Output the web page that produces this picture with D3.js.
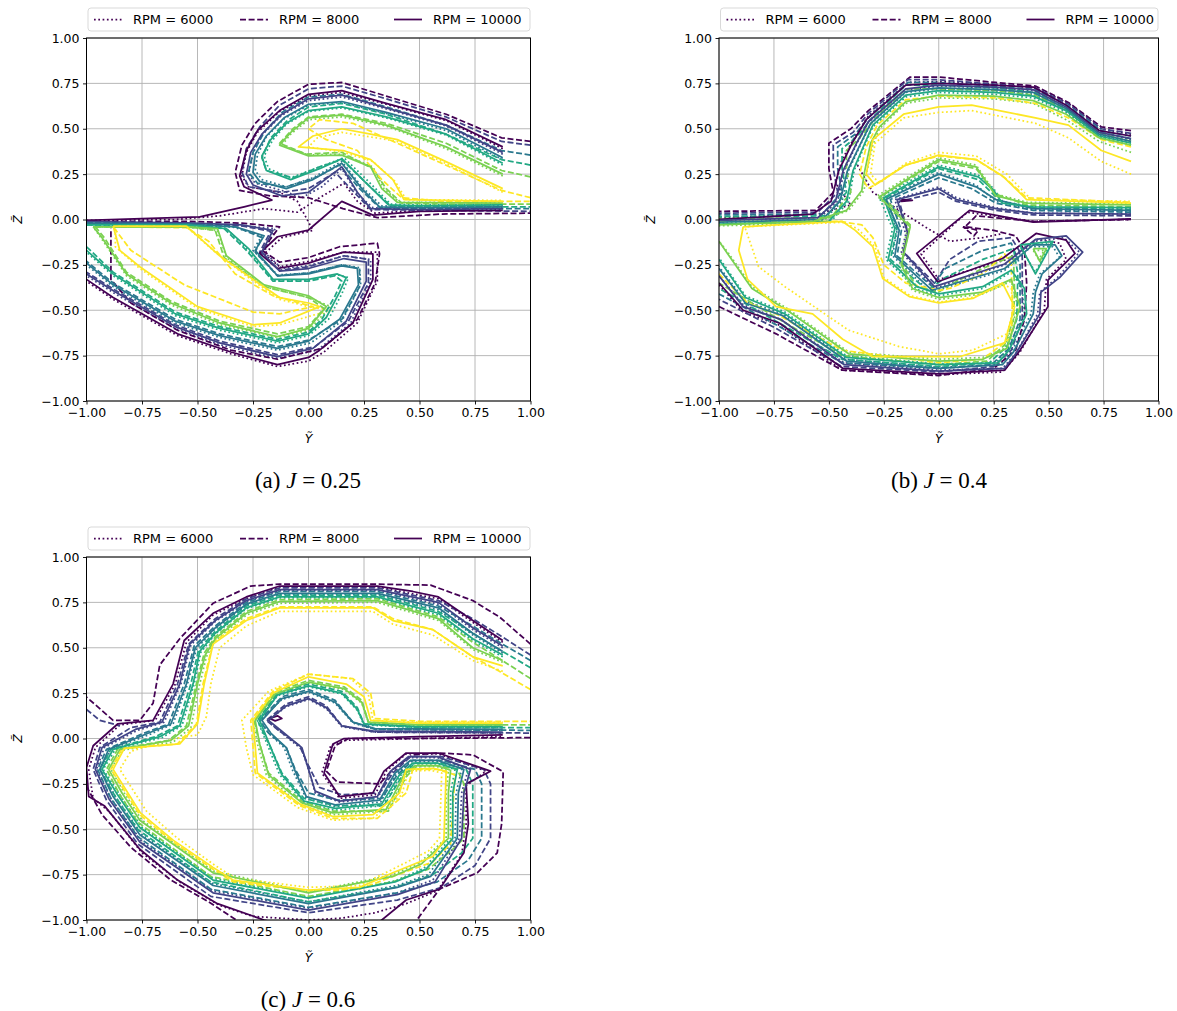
<!DOCTYPE html>
<html><head><meta charset="utf-8">
<script src="https://cdn.jsdelivr.net/npm/d3@7"></script>
<style>body{margin:0;background:#fff}</style>
</head><body>
<svg id="fig" width="1177" height="1011"></svg>
<script>
// ---------- shared categories / labels ----------
const tickValues = [-1, -0.75, -0.5, -0.25, 0, 0.25, 0.5, 0.75, 1];
const tickLabels = ["−1.00","−0.75","−0.50","−0.25","0.00","0.25","0.50","0.75","1.00"];
const levelColors = ["#440154","#414487","#2a788e","#22a884","#7ad151","#fde725"];
const rpmLabels = ["RPM = 6000","RPM = 8000","RPM = 10000"];
const captionLetters = ["(a)","(b)","(c)"];
const jValues = ["0.25","0.4","0.6"];

// ---------- panel (a) J=0.25 : contour lines [Y,Z] per level ----------
const aSolid = [
 [[[0.875,0.40],[0.62,0.55],[0.35,0.64],[0.15,0.71],[0,0.69],[-0.13,0.60],[-0.23,0.49],[-0.28,0.38],[-0.31,0.24],[-0.29,0.18],[-0.165,0.107],[-0.29,0.07],[-0.49,0.015],[-0.75,0.005],[-1,-0.005]],
  [[0.875,0.05],[0.5,0.045],[0.29,0.024],[0.15,0.10],[0,-0.058],[-0.14,-0.095],[-0.22,-0.187],[-0.14,-0.27],[0,-0.24],[0.157,-0.18],[0.29,-0.19],[0.29,-0.33],[0.2,-0.57],[0.05,-0.72],[0,-0.76],[-0.14,-0.80],[-0.35,-0.73],[-0.59,-0.63],[-0.88,-0.43],[-1,-0.33]]],
 [[[0.875,0.37],[0.62,0.52],[0.35,0.615],[0.15,0.685],[0,0.665],[-0.12,0.58],[-0.21,0.47],[-0.26,0.37],[-0.28,0.25],[-0.25,0.19],[-0.12,0.13],[0,0.15],[0.15,0.29],[0.22,0.15],[0.28,0.06],[0.5,0.055],[0.875,0.06]],
  [[-1,-0.012],[-0.55,-0.018],[-0.3,-0.03],[-0.16,-0.06],[-0.21,-0.18],[-0.13,-0.285],[0,-0.27],[0.16,-0.215],[0.26,-0.235],[0.26,-0.34],[0.17,-0.56],[0.02,-0.71],[-0.14,-0.755],[-0.4,-0.68],[-0.6,-0.59],[-0.87,-0.40],[-1,-0.30]]],
 [[[0.875,0.34],[0.62,0.50],[0.35,0.59],[0.15,0.65],[0,0.635],[-0.11,0.56],[-0.19,0.46],[-0.24,0.36],[-0.25,0.26],[-0.22,0.21],[-0.10,0.17],[0.02,0.22],[0.15,0.31],[0.24,0.17],[0.32,0.07],[0.5,0.065],[0.875,0.07]],
  [[-1,-0.02],[-0.55,-0.024],[-0.33,-0.04],[-0.20,-0.09],[-0.24,-0.17],[-0.14,-0.31],[0,-0.30],[0.15,-0.255],[0.22,-0.27],[0.225,-0.36],[0.14,-0.55],[0,-0.67],[-0.14,-0.71],[-0.4,-0.64],[-0.6,-0.56],[-0.88,-0.36],[-1,-0.24]]],
 [[[0.875,0.31],[0.62,0.47],[0.35,0.565],[0.15,0.62],[0,0.60],[-0.10,0.53],[-0.17,0.44],[-0.21,0.35],[-0.19,0.27],[-0.08,0.22],[0.05,0.28],[0.15,0.335],[0.26,0.20],[0.36,0.08],[0.5,0.075],[0.875,0.08]],
  [[-1,-0.03],[-0.55,-0.03],[-0.37,-0.05],[-0.27,-0.16],[-0.16,-0.33],[0,-0.33],[0.13,-0.30],[0.17,-0.32],[0.14,-0.40],[0.08,-0.54],[0,-0.63],[-0.14,-0.67],[-0.4,-0.60],[-0.6,-0.52],[-0.88,-0.30],[-1,-0.17]]],
 [[[0.875,0.25],[0.62,0.40],[0.35,0.52],[0.15,0.575],[0,0.56],[-0.08,0.48],[-0.13,0.41],[0,0.35],[0.15,0.355],[0.28,0.29],[0.33,0.17],[0.40,0.095],[0.875,0.09]],
  [[-0.97,-0.04],[-0.55,-0.04],[-0.41,-0.05],[-0.37,-0.20],[-0.2,-0.36],[0,-0.42],[0.08,-0.48],[0,-0.60],[-0.14,-0.645],[-0.4,-0.57],[-0.62,-0.46],[-0.82,-0.30],[-0.93,-0.10],[-0.97,-0.04]]],
 [[[0.875,0.17],[0.6,0.33],[0.40,0.44],[0.28,0.47],[0.15,0.50],[0.02,0.46],[-0.045,0.40],[0.157,0.38],[0.28,0.33],[0.38,0.22],[0.43,0.11],[0.875,0.10]],
  [[-0.88,-0.036],[-0.55,-0.036],[-0.40,-0.2],[-0.25,-0.33],[-0.13,-0.43],[0,-0.46],[0.05,-0.48],[-0.13,-0.57],[-0.25,-0.58],[-0.5,-0.48],[-0.76,-0.26],[-0.85,-0.17],[-0.88,-0.036]]]
];
const aDashed = [
 [[[1.0,0.43],[0.87,0.45],[0.62,0.58],[0.35,0.68],[0.15,0.755],[0,0.745],[-0.14,0.65],[-0.24,0.53],[-0.30,0.41],[-0.33,0.26],[-0.31,0.16],[-0.17,0.13],[0,0.12],[0.155,0.06],[0.31,0.01],[0.6,0.03],[1.0,0.035]],
  [[-1,-0.01],[-0.55,-0.01],[-0.3,-0.02],[-0.13,-0.04],[-0.21,-0.17],[-0.13,-0.235],[0,-0.21],[0.14,-0.15],[0.31,-0.13],[0.32,-0.19],[0.30,-0.35],[0.22,-0.55],[0.06,-0.71],[-0.14,-0.77],[-0.35,-0.72],[-0.59,-0.61],[-0.80,-0.46],[-0.89,-0.33],[-0.89,-0.05]]],
 [[[1.0,0.41],[0.87,0.43],[0.62,0.565],[0.35,0.665],[0.15,0.735],[0,0.72],[-0.13,0.63],[-0.22,0.51],[-0.28,0.39],[-0.30,0.26],[-0.27,0.18],[-0.12,0.15],[0,0.17],[0.12,0.26],[0.19,0.17],[0.28,0.055],[0.6,0.05],[1.0,0.045]],
  [[-1,-0.015],[-0.55,-0.02],[-0.3,-0.035],[-0.17,-0.065],[-0.22,-0.18],[-0.13,-0.28],[0,-0.26],[0.16,-0.20],[0.27,-0.22],[0.27,-0.35],[0.18,-0.56],[0.03,-0.70],[-0.14,-0.745],[-0.4,-0.67],[-0.6,-0.58],[-0.87,-0.39],[-1,-0.29]]],
 [[[1.0,0.355],[0.87,0.38],[0.62,0.52],[0.35,0.62],[0.15,0.69],[0,0.675],[-0.12,0.59],[-0.20,0.48],[-0.25,0.37],[-0.27,0.26],[-0.23,0.20],[-0.10,0.18],[0.03,0.23],[0.14,0.30],[0.23,0.17],[0.32,0.065],[0.6,0.06],[1.0,0.06]],
  [[-1,-0.02],[-0.55,-0.025],[-0.33,-0.04],[-0.21,-0.10],[-0.24,-0.18],[-0.14,-0.31],[0,-0.295],[0.15,-0.25],[0.23,-0.27],[0.23,-0.37],[0.15,-0.55],[0,-0.665],[-0.14,-0.70],[-0.4,-0.63],[-0.6,-0.55],[-0.88,-0.35],[-1,-0.23]]],
 [[[1.0,0.30],[0.87,0.33],[0.62,0.47],[0.35,0.58],[0.15,0.64],[0,0.62],[-0.10,0.54],[-0.17,0.45],[-0.21,0.34],[-0.19,0.27],[-0.07,0.23],[0.05,0.29],[0.15,0.33],[0.27,0.19],[0.37,0.075],[0.6,0.07],[1.0,0.07]],
  [[-1,-0.03],[-0.55,-0.03],[-0.38,-0.05],[-0.28,-0.17],[-0.16,-0.34],[0,-0.34],[0.12,-0.31],[0.15,-0.34],[0.12,-0.42],[0.06,-0.55],[0,-0.62],[-0.14,-0.66],[-0.4,-0.59],[-0.6,-0.51],[-0.88,-0.29],[-1,-0.15]]],
 [[[1.0,0.235],[0.87,0.27],[0.62,0.42],[0.35,0.53],[0.15,0.58],[0,0.565],[-0.07,0.50],[-0.13,0.42],[-0.01,0.36],[0.15,0.37],[0.29,0.28],[0.35,0.17],[0.42,0.09],[0.6,0.085],[1.0,0.085]],
  [[-0.96,-0.04],[-0.55,-0.04],[-0.42,-0.06],[-0.38,-0.21],[-0.2,-0.37],[0,-0.43],[0.07,-0.49],[0,-0.59],[-0.14,-0.63],[-0.4,-0.56],[-0.62,-0.45],[-0.82,-0.29],[-0.92,-0.10],[-0.96,-0.04]]],
 [[[1.0,0.12],[0.87,0.16],[0.6,0.31],[0.40,0.42],[0.2,0.53],[0.05,0.55],[0.0,0.50],[0.08,0.44],[0.22,0.38],[0.33,0.22],[0.42,0.12],[0.6,0.10],[1.0,0.10]],
  [[-0.88,-0.04],[-0.55,-0.045],[-0.45,-0.12],[-0.33,-0.30],[-0.16,-0.42],[0.02,-0.48],[-0.13,-0.52],[-0.25,-0.51],[-0.56,-0.36],[-0.80,-0.17],[-0.88,-0.04]]]
];
const aDotted = [
 [[[0.875,0.39],[0.62,0.545],[0.35,0.635],[0.15,0.70],[0,0.68],[-0.13,0.595],[-0.23,0.48],[-0.28,0.37],[-0.30,0.24],[-0.27,0.18],[-0.13,0.15],[-0.05,0.10],[0.02,-0.06],[-0.12,-0.10],[-0.20,-0.19],[-0.13,-0.26],[0,-0.23],[0.16,-0.18],[0.31,-0.18],[0.31,-0.34],[0.22,-0.57],[0.07,-0.73],[0,-0.78],[-0.14,-0.81],[-0.35,-0.74],[-0.59,-0.64],[-0.88,-0.44],[-1,-0.34]],
  [[-1,-0.005],[-0.6,0.0],[-0.4,0.02],[-0.2,0.06],[-0.05,0.04],[0.05,0.12],[0.16,0.20],[0.22,0.10],[0.30,0.035],[0.5,0.05],[0.875,0.055]]],
 [[[0.875,0.36],[0.62,0.515],[0.35,0.61],[0.15,0.675],[0,0.655],[-0.12,0.575],[-0.21,0.465],[-0.25,0.365],[-0.27,0.25],[-0.24,0.20],[-0.12,0.16],[-0.03,0.12],[0.06,0.18],[0.15,0.28],[0.22,0.14],[0.29,0.065],[0.5,0.06],[0.875,0.065]],
  [[-1,-0.015],[-0.55,-0.02],[-0.3,-0.035],[-0.15,-0.05],[-0.20,-0.18],[-0.12,-0.27],[0,-0.255],[0.16,-0.20],[0.28,-0.22],[0.28,-0.34],[0.19,-0.57],[0.04,-0.72],[-0.14,-0.765],[-0.4,-0.69],[-0.6,-0.60],[-0.87,-0.41],[-1,-0.31]]],
 [[[0.875,0.33],[0.62,0.49],[0.35,0.585],[0.15,0.645],[0,0.63],[-0.11,0.555],[-0.19,0.455],[-0.23,0.355],[-0.24,0.27],[-0.21,0.22],[-0.10,0.18],[0.02,0.23],[0.15,0.32],[0.24,0.18],[0.33,0.075],[0.5,0.07],[0.875,0.075]],
  [[-1,-0.022],[-0.55,-0.026],[-0.34,-0.042],[-0.21,-0.09],[-0.25,-0.17],[-0.14,-0.305],[0,-0.295],[0.15,-0.25],[0.23,-0.265],[0.235,-0.36],[0.15,-0.56],[0.01,-0.68],[-0.14,-0.72],[-0.4,-0.65],[-0.6,-0.57],[-0.88,-0.37],[-1,-0.25]]],
 [[[0.875,0.30],[0.62,0.465],[0.35,0.56],[0.15,0.615],[0,0.595],[-0.10,0.525],[-0.16,0.44],[-0.20,0.35],[-0.18,0.28],[-0.08,0.23],[0.05,0.29],[0.16,0.34],[0.27,0.21],[0.37,0.085],[0.5,0.08],[0.875,0.085]],
  [[-1,-0.03],[-0.55,-0.032],[-0.37,-0.05],[-0.28,-0.16],[-0.16,-0.335],[0,-0.335],[0.13,-0.305],[0.18,-0.32],[0.15,-0.41],[0.09,-0.55],[0,-0.64],[-0.14,-0.68],[-0.4,-0.61],[-0.6,-0.53],[-0.88,-0.31],[-1,-0.18]]],
 [[[0.875,0.24],[0.62,0.39],[0.35,0.515],[0.15,0.565],[0,0.55],[-0.08,0.47],[-0.12,0.41],[0,0.355],[0.15,0.36],[0.29,0.29],[0.34,0.17],[0.41,0.095],[0.875,0.095]],
  [[-0.97,-0.04],[-0.55,-0.042],[-0.41,-0.06],[-0.37,-0.21],[-0.2,-0.37],[0,-0.43],[0.1,-0.48],[0,-0.61],[-0.14,-0.65],[-0.4,-0.58],[-0.62,-0.47],[-0.82,-0.31],[-0.93,-0.11],[-0.97,-0.04]]],
 [[[0.875,0.15],[0.6,0.32],[0.40,0.43],[0.28,0.455],[0.15,0.48],[0.04,0.45],[0.0,0.40],[0.16,0.37],[0.29,0.32],[0.39,0.21],[0.44,0.11],[0.875,0.105]],
  [[-0.87,-0.04],[-0.55,-0.04],[-0.42,-0.18],[-0.27,-0.32],[-0.13,-0.44],[0,-0.48],[0.1,-0.50],[-0.13,-0.58],[-0.25,-0.59],[-0.5,-0.49],[-0.76,-0.27],[-0.87,-0.15],[-0.87,-0.04]]]
];

// ---------- panel (b) J=0.4 ----------
const bSolid = [
 [[[0.875,0.46],[0.73,0.49],[0.58,0.63],[0.43,0.73],[0.25,0.74],[0,0.75],[-0.15,0.74],[-0.33,0.55],[-0.39,0.43],[-0.455,0.27],[-0.49,0.10],[-0.574,0.03],[-1,0.0]],
  [[-1,-0.35],[-0.89,-0.50],[-0.726,-0.57],[-0.437,-0.82],[0,-0.85],[0.30,-0.83],[0.37,-0.72],[0.497,-0.48],[0.497,-0.334],[0.62,-0.187],[0.58,-0.114],[0.443,-0.077],[0.29,-0.215],[-0.005,-0.343],[-0.10,-0.187],[0.14,0.05],[0.43,-0.015],[0.875,0.004]],
  [[-0.17,0.11],[-0.12,0.106],[-0.17,0.10],[-0.17,0.11]]],
 [[[0.875,0.445],[0.73,0.48],[0.58,0.62],[0.43,0.715],[0.25,0.73],[0,0.74],[-0.15,0.72],[-0.32,0.54],[-0.37,0.43],[-0.435,0.27],[-0.47,0.10],[-0.55,0.01],[-1,-0.005]],
  [[0.875,0.03],[0.43,0.035],[0.26,0.06],[0.08,0.11],[0,0.17],[-0.19,0.11],[-0.14,-0.08],[-0.16,-0.18],[-0.02,-0.37],[0.30,-0.245],[0.44,-0.11],[0.58,-0.09],[0.655,-0.18],[0.55,-0.32],[0.465,-0.40],[0.46,-0.52],[0.35,-0.74],[0.30,-0.82],[0,-0.835],[-0.43,-0.80],[-0.72,-0.55],[-0.89,-0.48],[-1,-0.31]]],
 [[[0.875,0.43],[0.73,0.47],[0.58,0.61],[0.43,0.70],[0.25,0.715],[0,0.725],[-0.15,0.705],[-0.31,0.53],[-0.355,0.42],[-0.415,0.27],[-0.45,0.10],[-0.53,0.0],[-1,-0.015]],
  [[0.875,0.05],[0.43,0.06],[0.26,0.11],[0.17,0.18],[0,0.25],[-0.24,0.11],[-0.18,-0.06],[-0.20,-0.20],[-0.03,-0.39],[0.30,-0.27],[0.43,-0.14],[0.53,-0.14],[0.56,-0.20],[0.47,-0.30],[0.44,-0.40],[0.43,-0.52],[0.34,-0.73],[0.29,-0.80],[0,-0.82],[-0.42,-0.78],[-0.71,-0.53],[-0.88,-0.46],[-1,-0.27]]],
 [[[0.875,0.42],[0.73,0.46],[0.58,0.60],[0.43,0.68],[0.25,0.70],[0,0.71],[-0.15,0.685],[-0.30,0.52],[-0.34,0.41],[-0.39,0.27],[-0.42,0.10],[-0.50,-0.01],[-1,-0.025]],
  [[0.875,0.065],[0.43,0.07],[0.29,0.09],[0.25,0.16],[0.18,0.235],[0,0.29],[-0.25,0.12],[-0.20,-0.05],[-0.23,-0.22],[-0.10,-0.37],[0,-0.41],[0.2,-0.37],[0.33,-0.28],[0.39,-0.38],[0.40,-0.52],[0.32,-0.72],[0.27,-0.79],[0,-0.80],[-0.42,-0.76],[-0.70,-0.52],[-0.88,-0.43],[-1,-0.22]],
  [[0.37,-0.14],[0.52,-0.12],[0.44,-0.30],[0.37,-0.14]]],
 [[[0.875,0.41],[0.73,0.45],[0.58,0.58],[0.43,0.655],[0.25,0.68],[0,0.685],[-0.15,0.65],[-0.27,0.51],[-0.31,0.42],[-0.34,0.25],[-0.35,0.16],[-0.42,0.05],[-0.57,-0.01],[-1,-0.03]],
  [[0.875,0.08],[0.40,0.09],[0.26,0.13],[0.17,0.29],[0,0.33],[-0.27,0.125],[-0.13,-0.04],[-0.17,-0.25],[-0.12,-0.38],[0,-0.43],[0.2,-0.40],[0.33,-0.33],[0.37,-0.48],[0.31,-0.71],[0.2,-0.77],[0,-0.78],[-0.41,-0.74],[-0.69,-0.50],[-0.85,-0.38],[-0.96,-0.19],[-1,-0.12]],
  [[0.43,-0.16],[0.49,-0.16],[0.46,-0.23],[0.43,-0.16]]],
 [[[0.875,0.32],[0.74,0.38],[0.59,0.52],[0.44,0.56],[0.15,0.63],[0,0.62],[-0.16,0.58],[-0.30,0.44],[-0.33,0.25],[-0.29,0.19],[-0.15,0.30],[0,0.355],[0.17,0.33],[0.29,0.24],[0.40,0.11],[0.875,0.09]],
  [[-0.89,-0.04],[-0.44,-0.01],[-0.38,-0.06],[-0.30,-0.15],[-0.255,-0.325],[-0.134,-0.425],[0,-0.46],[0.155,-0.435],[0.29,-0.35],[0.345,-0.48],[0.30,-0.68],[0.094,-0.756],[-0.30,-0.756],[-0.437,-0.66],[-0.574,-0.52],[-0.74,-0.48],[-0.87,-0.33],[-0.91,-0.17],[-0.89,-0.04]]]
];
const bDashed = [
 [[[0.875,0.49],[0.74,0.51],[0.59,0.645],[0.44,0.735],[0.26,0.755],[0,0.785],[-0.13,0.785],[-0.32,0.60],[-0.40,0.50],[-0.50,0.42],[-0.50,0.28],[-0.48,0.15],[-0.56,0.05],[-1,0.045]],
  [[-1,-0.48],[-0.74,-0.63],[-0.44,-0.83],[0,-0.86],[0.25,-0.82],[0.35,-0.72],[0.39,-0.55],[0.40,-0.35],[0.39,-0.17],[0.35,-0.09],[0.25,-0.06],[0.12,-0.04],[0.17,0.02],[0.43,-0.01],[0.875,0.0]],
  [[0.11,-0.04],[0.18,-0.06],[0.16,-0.09],[0.11,-0.04]]],
 [[[0.875,0.475],[0.74,0.50],[0.59,0.635],[0.44,0.725],[0.26,0.745],[0,0.77],[-0.14,0.77],[-0.32,0.585],[-0.39,0.48],[-0.48,0.41],[-0.48,0.28],[-0.46,0.15],[-0.55,0.04],[-1,0.035]],
  [[0.875,0.02],[0.43,0.025],[0.26,0.05],[0.08,0.10],[0,0.15],[-0.18,0.10],[-0.14,-0.07],[-0.16,-0.18],[-0.02,-0.35],[0.05,-0.22],[0.18,-0.12],[0.33,-0.10],[0.38,-0.20],[0.38,-0.55],[0.33,-0.72],[0.25,-0.81],[0,-0.84],[-0.44,-0.81],[-0.74,-0.60],[-1,-0.44]]],
 [[[0.875,0.46],[0.74,0.49],[0.59,0.625],[0.44,0.715],[0.26,0.735],[0,0.755],[-0.14,0.755],[-0.31,0.575],[-0.38,0.47],[-0.46,0.40],[-0.46,0.28],[-0.44,0.15],[-0.53,0.03],[-1,0.025]],
  [[0.875,0.04],[0.43,0.05],[0.26,0.09],[0.15,0.17],[0,0.23],[-0.22,0.11],[-0.17,-0.06],[-0.19,-0.20],[-0.03,-0.37],[0.03,-0.27],[0.2,-0.17],[0.33,-0.13],[0.37,-0.25],[0.37,-0.55],[0.32,-0.71],[0.24,-0.80],[0,-0.82],[-0.44,-0.79],[-0.74,-0.58],[-1,-0.41]]],
 [[[0.875,0.445],[0.74,0.48],[0.59,0.615],[0.44,0.70],[0.26,0.725],[0,0.74],[-0.15,0.74],[-0.30,0.565],[-0.37,0.46],[-0.44,0.39],[-0.44,0.28],[-0.42,0.15],[-0.51,0.02],[-1,0.015]],
  [[0.875,0.055],[0.43,0.065],[0.28,0.10],[0.18,0.22],[0,0.28],[-0.24,0.12],[-0.19,-0.05],[-0.22,-0.22],[-0.05,-0.39],[0.03,-0.32],[0.2,-0.22],[0.34,-0.16],[0.36,-0.30],[0.355,-0.55],[0.31,-0.70],[0.23,-0.79],[0,-0.81],[-0.44,-0.77],[-0.74,-0.56],[-1,-0.38]]],
 [[[0.875,0.43],[0.74,0.47],[0.59,0.60],[0.44,0.685],[0.26,0.71],[0,0.72],[-0.15,0.72],[-0.29,0.555],[-0.36,0.45],[-0.42,0.38],[-0.42,0.28],[-0.40,0.15],[-0.49,0.01],[-1,0.005]],
  [[0.875,0.07],[0.40,0.08],[0.26,0.14],[0.17,0.28],[0,0.32],[-0.26,0.13],[-0.13,-0.03],[-0.17,-0.24],[-0.10,-0.37],[0,-0.40],[0.05,-0.36],[0.2,-0.27],[0.34,-0.20],[0.345,-0.40],[0.34,-0.55],[0.30,-0.69],[0.22,-0.78],[0,-0.80],[-0.44,-0.75],[-0.74,-0.54],[-1,-0.35]]],
 [[[0.875,0.40],[0.74,0.44],[0.59,0.56],[0.44,0.64],[0.26,0.67],[0,0.68],[-0.15,0.66],[-0.28,0.52],[-0.33,0.40],[-0.36,0.25],[-0.32,0.17],[-0.15,0.30],[0,0.35],[0.17,0.33],[0.30,0.23],[0.40,0.12],[0.875,0.095]],
  [[-1,-0.30],[-0.87,-0.46],[-0.74,-0.52],[-0.44,-0.72],[0,-0.79],[0.2,-0.77],[0.33,-0.65],[0.335,-0.45],[0.33,-0.25],[0.30,-0.19],[0.2,-0.30],[0.05,-0.38],[0,-0.39],[-0.15,-0.35],[-0.25,-0.25],[-0.30,-0.10],[-0.35,-0.03],[-0.45,-0.01],[-1,-0.01]]]
];
const bDotted = [
 [[[0.875,0.47],[0.74,0.50],[0.59,0.64],[0.44,0.725],[0.26,0.745],[0,0.76],[-0.14,0.755],[-0.32,0.57],[-0.38,0.46],[-0.44,0.33],[-0.47,0.20],[-0.40,0.08],[-0.55,0.03],[-1,0.01]],
  [[-1,-0.36],[-0.89,-0.51],[-0.73,-0.58],[-0.44,-0.83],[0,-0.855],[0.29,-0.84],[0.37,-0.73],[0.48,-0.50],[0.49,-0.33],[0.58,-0.22],[0.55,-0.13],[0.45,-0.11],[0.31,-0.22],[0,-0.33],[-0.08,-0.19],[0.13,0.04],[0.43,-0.01],[0.875,0.0]],
  [[-0.37,0.30],[-0.30,0.15],[-0.18,0.05],[-0.05,-0.05],[0.05,-0.12],[0.2,-0.10],[0.28,-0.08]]],
 [[[0.875,0.44],[0.73,0.475],[0.58,0.615],[0.43,0.71],[0.25,0.725],[0,0.735],[-0.15,0.715],[-0.32,0.535],[-0.37,0.425],[-0.43,0.27],[-0.46,0.10],[-0.54,0.01],[-1,-0.005]],
  [[0.875,0.03],[0.43,0.035],[0.26,0.065],[0.08,0.12],[0,0.18],[-0.20,0.11],[-0.15,-0.08],[-0.17,-0.18],[-0.02,-0.38],[0.30,-0.25],[0.44,-0.12],[0.57,-0.10],[0.64,-0.18],[0.54,-0.32],[0.46,-0.40],[0.45,-0.52],[0.35,-0.74],[0.29,-0.82],[0,-0.83],[-0.43,-0.79],[-0.72,-0.55],[-0.89,-0.47],[-1,-0.31]]],
 [[[0.875,0.425],[0.73,0.465],[0.58,0.60],[0.43,0.69],[0.25,0.71],[0,0.72],[-0.15,0.70],[-0.31,0.525],[-0.355,0.415],[-0.41,0.27],[-0.44,0.10],[-0.52,0.0],[-1,-0.015]],
  [[0.875,0.045],[0.43,0.055],[0.26,0.10],[0.17,0.19],[0,0.26],[-0.25,0.11],[-0.19,-0.06],[-0.21,-0.20],[-0.04,-0.40],[0.30,-0.28],[0.42,-0.15],[0.52,-0.15],[0.55,-0.21],[0.46,-0.30],[0.43,-0.40],[0.42,-0.52],[0.33,-0.73],[0.28,-0.80],[0,-0.815],[-0.42,-0.77],[-0.71,-0.52],[-0.88,-0.45],[-1,-0.26]]],
 [[[0.875,0.41],[0.73,0.455],[0.58,0.59],[0.43,0.67],[0.25,0.69],[0,0.70],[-0.15,0.675],[-0.30,0.51],[-0.34,0.40],[-0.385,0.27],[-0.41,0.10],[-0.49,-0.01],[-1,-0.025]],
  [[0.875,0.06],[0.43,0.07],[0.29,0.10],[0.25,0.17],[0.18,0.245],[0,0.30],[-0.27,0.12],[-0.21,-0.05],[-0.24,-0.22],[-0.10,-0.385],[0,-0.42],[0.2,-0.38],[0.33,-0.29],[0.38,-0.38],[0.39,-0.52],[0.31,-0.72],[0.26,-0.79],[0,-0.795],[-0.42,-0.75],[-0.70,-0.51],[-0.88,-0.42],[-1,-0.21]],
  [[0.37,-0.15],[0.51,-0.13],[0.44,-0.29],[0.37,-0.15]]],
 [[[0.875,0.37],[0.73,0.43],[0.58,0.55],[0.43,0.64],[0.25,0.665],[0,0.67],[-0.15,0.64],[-0.27,0.50],[-0.30,0.41],[-0.33,0.25],[-0.34,0.16],[-0.41,0.05],[-0.57,-0.02],[-1,-0.035]],
  [[0.875,0.085],[0.40,0.095],[0.26,0.14],[0.17,0.30],[0,0.34],[-0.28,0.13],[-0.14,-0.04],[-0.18,-0.26],[-0.12,-0.39],[0,-0.44],[0.2,-0.41],[0.33,-0.34],[0.36,-0.48],[0.30,-0.71],[0.2,-0.76],[0,-0.77],[-0.41,-0.73],[-0.69,-0.49],[-0.85,-0.37],[-0.96,-0.18],[-1,-0.12]],
  [[0.43,-0.17],[0.48,-0.17],[0.455,-0.22],[0.43,-0.17]]],
 [[[0.875,0.25],[0.74,0.32],[0.59,0.45],[0.44,0.53],[0.15,0.60],[0,0.59],[-0.16,0.56],[-0.29,0.42],[-0.31,0.25],[-0.27,0.20],[-0.15,0.31],[0,0.37],[0.17,0.35],[0.31,0.25],[0.42,0.11],[0.875,0.10]],
  [[-0.88,-0.05],[-0.82,-0.26],[-0.70,-0.37],[-0.41,-0.61],[-0.18,-0.70],[0,-0.74],[0.155,-0.72],[0.31,-0.63],[0.34,-0.50],[0.33,-0.38],[0.30,-0.36],[0.15,-0.43],[0,-0.455],[-0.13,-0.42],[-0.25,-0.32],[-0.29,-0.15],[-0.37,-0.05],[-0.44,-0.015],[-0.88,-0.04]]]
];

// ---------- panel (c) J=0.6 ----------
const cSolid = [
 [[[0.875,0.54],[0.74,0.65],[0.585,0.78],[0.47,0.81],[0.31,0.84],[-0.13,0.84],[-0.28,0.78],[-0.43,0.69],[-0.56,0.54],[-0.61,0.30],[-0.70,0.10],[-0.86,0.08],[-0.97,-0.04],[-1.0,-0.16],[-0.99,-0.32],[-0.92,-0.37],[-0.76,-0.61],[-0.59,-0.78],[-0.41,-0.91],[-0.2,-1.0],[-0.1,-1.03]],
  [[0.3,-1.03],[0.44,-0.89],[0.59,-0.83],[0.70,-0.63],[0.72,-0.47],[0.71,-0.25],[0.82,-0.18],[0.585,-0.08],[0.44,-0.08],[0.34,-0.18],[0.29,-0.30],[0.14,-0.32],[0.07,-0.19],[0.11,-0.03],[0.16,0.0],[0.5,0.01],[0.875,0.02]],
  [[-0.175,0.11],[-0.14,0.125],[-0.12,0.11],[-0.15,0.097],[-0.175,0.11]]],
 [[[0.875,0.51],[0.74,0.61],[0.585,0.75],[0.31,0.82],[-0.13,0.82],[-0.28,0.76],[-0.42,0.65],[-0.535,0.52],[-0.58,0.30],[-0.66,0.09],[-0.78,0.05],[-0.93,-0.05],[-0.96,-0.17],[-0.90,-0.33],[-0.76,-0.57],[-0.43,-0.85],[0,-0.945],[0.40,-0.86],[0.57,-0.79],[0.69,-0.55],[0.70,-0.30],[0.73,-0.17],[0.58,-0.10],[0.45,-0.10],[0.37,-0.18],[0.31,-0.32],[0.14,-0.345],[0.03,-0.29],[0,-0.17],[-0.03,-0.05],[-0.12,0.04],[-0.18,0.10],[-0.10,0.18],[0,0.22],[0.08,0.17],[0.15,0.07],[0.3,0.04],[0.875,0.035]]],
 [[[0.875,0.48],[0.74,0.58],[0.585,0.72],[0.31,0.80],[-0.13,0.80],[-0.28,0.74],[-0.42,0.61],[-0.51,0.50],[-0.55,0.30],[-0.62,0.08],[-0.72,0.03],[-0.90,-0.06],[-0.94,-0.17],[-0.88,-0.32],[-0.76,-0.53],[-0.43,-0.81],[0,-0.91],[0.40,-0.82],[0.55,-0.76],[0.67,-0.55],[0.675,-0.30],[0.70,-0.17],[0.58,-0.12],[0.46,-0.12],[0.39,-0.19],[0.32,-0.34],[0.12,-0.365],[-0.01,-0.32],[-0.06,-0.18],[-0.10,-0.05],[-0.17,0.03],[-0.21,0.10],[-0.12,0.22],[0,0.26],[0.12,0.20],[0.2,0.09],[0.3,0.055],[0.875,0.05]]],
 [[[0.875,0.46],[0.74,0.55],[0.585,0.69],[0.31,0.78],[-0.13,0.78],[-0.28,0.72],[-0.42,0.58],[-0.49,0.48],[-0.52,0.30],[-0.58,0.07],[-0.67,0.01],[-0.88,-0.06],[-0.93,-0.17],[-0.86,-0.31],[-0.76,-0.49],[-0.43,-0.78],[0,-0.88],[0.39,-0.79],[0.53,-0.72],[0.65,-0.55],[0.65,-0.30],[0.67,-0.17],[0.58,-0.135],[0.47,-0.135],[0.41,-0.20],[0.33,-0.36],[0.12,-0.385],[-0.02,-0.345],[-0.12,-0.20],[-0.17,-0.05],[-0.22,0.10],[-0.14,0.24],[0,0.29],[0.15,0.25],[0.22,0.16],[0.25,0.08],[0.5,0.065],[0.875,0.065]]],
 [[[0.875,0.43],[0.74,0.50],[0.585,0.66],[0.31,0.76],[-0.13,0.755],[-0.28,0.69],[-0.42,0.55],[-0.465,0.46],[-0.50,0.30],[-0.54,0.07],[-0.62,-0.01],[-0.85,-0.06],[-0.90,-0.17],[-0.84,-0.30],[-0.76,-0.45],[-0.43,-0.74],[0,-0.85],[0.38,-0.76],[0.51,-0.69],[0.63,-0.55],[0.63,-0.30],[0.64,-0.175],[0.58,-0.15],[0.48,-0.15],[0.43,-0.20],[0.35,-0.39],[0.11,-0.41],[-0.03,-0.355],[-0.18,-0.20],[-0.22,-0.03],[-0.24,0.10],[-0.15,0.245],[0,0.31],[0.16,0.275],[0.24,0.2],[0.27,0.09],[0.5,0.075],[0.875,0.075]]],
 [[[0.875,0.40],[0.74,0.45],[0.56,0.60],[0.38,0.65],[0.29,0.72],[-0.13,0.72],[-0.28,0.65],[-0.43,0.52],[-0.47,0.30],[-0.50,0.08],[-0.58,-0.03],[-0.83,-0.055],[-0.88,-0.17],[-0.757,-0.41],[-0.61,-0.56],[-0.43,-0.71],[-0.34,-0.78],[0,-0.835],[0.23,-0.82],[0.38,-0.74],[0.56,-0.65],[0.61,-0.56],[0.62,-0.18],[0.56,-0.165],[0.44,-0.17],[0.41,-0.30],[0.29,-0.42],[0.11,-0.43],[-0.04,-0.36],[-0.23,-0.19],[-0.25,0.10],[-0.16,0.25],[0,0.34],[0.17,0.30],[0.25,0.23],[0.28,0.10],[0.5,0.085],[0.875,0.085]]]
];
const cDashed = [
 [[[1.0,0.52],[0.86,0.67],[0.74,0.76],[0.55,0.845],[0.31,0.85],[-0.13,0.85],[-0.26,0.84],[-0.43,0.745],[-0.58,0.55],[-0.67,0.405],[-0.70,0.195],[-0.76,0.10],[-0.88,0.10],[-1.02,0.25]],
  [[-1.02,-0.22],[-0.93,-0.42],[-0.80,-0.60],[-0.62,-0.78],[-0.45,-0.90],[-0.30,-1.02]],
  [[0.47,-1.03],[0.59,-0.83],[0.76,-0.74],[0.85,-0.63],[0.87,-0.47],[0.877,-0.183],[0.74,-0.09],[0.59,-0.08],[0.47,-0.09],[0.38,-0.17],[0.32,-0.25],[0.13,-0.24],[0.08,-0.18],[0.12,-0.04],[0.18,0.0],[0.5,0.0],[1.0,0.005]]],
 [[[1.0,0.46],[0.86,0.57],[0.74,0.66],[0.585,0.76],[0.31,0.83],[-0.13,0.83],[-0.28,0.77],[-0.42,0.66],[-0.54,0.52],[-0.59,0.30],[-0.67,0.09],[-0.80,0.06],[-0.94,-0.05],[-0.97,-0.17],[-0.91,-0.34],[-0.77,-0.58],[-0.44,-0.87],[0,-0.96],[0.40,-0.89],[0.60,-0.82],[0.75,-0.70],[0.82,-0.55],[0.82,-0.25],[0.79,-0.17],[0.60,-0.10],[0.46,-0.10],[0.38,-0.19],[0.32,-0.30],[0.15,-0.31],[0.05,-0.27],[0,-0.15],[-0.04,-0.04],[-0.13,0.04],[-0.19,0.10],[-0.10,0.19],[0,0.23],[0.08,0.18],[0.15,0.07],[0.3,0.035],[1.0,0.03]],
  [[-1.0,0.16],[-0.94,0.10],[-0.85,0.07]]],
 [[[1.0,0.43],[0.86,0.53],[0.74,0.62],[0.585,0.73],[0.31,0.81],[-0.13,0.81],[-0.28,0.75],[-0.42,0.62],[-0.515,0.51],[-0.56,0.30],[-0.63,0.08],[-0.74,0.03],[-0.91,-0.06],[-0.95,-0.17],[-0.89,-0.33],[-0.77,-0.54],[-0.44,-0.83],[0,-0.93],[0.40,-0.85],[0.58,-0.79],[0.72,-0.67],[0.78,-0.55],[0.78,-0.25],[0.75,-0.17],[0.60,-0.12],[0.47,-0.12],[0.40,-0.20],[0.33,-0.33],[0.13,-0.34],[0,-0.30],[-0.06,-0.17],[-0.10,-0.05],[-0.18,0.03],[-0.22,0.10],[-0.12,0.23],[0,0.27],[0.12,0.21],[0.2,0.09],[0.3,0.05],[1.0,0.045]]],
 [[[1.0,0.39],[0.86,0.49],[0.74,0.58],[0.585,0.70],[0.31,0.79],[-0.13,0.79],[-0.28,0.73],[-0.42,0.59],[-0.495,0.49],[-0.53,0.30],[-0.59,0.07],[-0.69,0.01],[-0.89,-0.06],[-0.94,-0.17],[-0.87,-0.32],[-0.77,-0.50],[-0.44,-0.79],[0,-0.90],[0.39,-0.82],[0.56,-0.75],[0.69,-0.63],[0.74,-0.55],[0.74,-0.25],[0.71,-0.17],[0.60,-0.135],[0.48,-0.135],[0.42,-0.21],[0.34,-0.37],[0.12,-0.37],[-0.02,-0.33],[-0.12,-0.19],[-0.17,-0.05],[-0.23,0.10],[-0.14,0.25],[0,0.30],[0.15,0.26],[0.22,0.17],[0.25,0.08],[0.5,0.06],[1.0,0.06]]],
 [[[1.0,0.33],[0.86,0.44],[0.74,0.53],[0.585,0.67],[0.31,0.77],[-0.13,0.765],[-0.28,0.70],[-0.42,0.56],[-0.47,0.47],[-0.505,0.30],[-0.55,0.07],[-0.63,-0.01],[-0.86,-0.06],[-0.91,-0.17],[-0.85,-0.31],[-0.77,-0.46],[-0.44,-0.76],[0,-0.87],[0.38,-0.79],[0.54,-0.72],[0.66,-0.60],[0.70,-0.55],[0.70,-0.25],[0.67,-0.17],[0.58,-0.15],[0.49,-0.15],[0.44,-0.21],[0.36,-0.40],[0.11,-0.40],[-0.03,-0.345],[-0.18,-0.19],[-0.22,-0.03],[-0.245,0.10],[-0.15,0.255],[0,0.32],[0.16,0.285],[0.24,0.21],[0.27,0.09],[0.5,0.075],[1.0,0.075]]],
 [[[1.0,0.27],[0.86,0.37],[0.74,0.45],[0.56,0.60],[0.38,0.66],[0.29,0.725],[-0.13,0.725],[-0.28,0.66],[-0.43,0.53],[-0.475,0.30],[-0.505,0.08],[-0.59,-0.03],[-0.84,-0.055],[-0.89,-0.17],[-0.76,-0.42],[-0.61,-0.57],[-0.43,-0.72],[-0.34,-0.79],[0,-0.84],[0.23,-0.83],[0.38,-0.76],[0.56,-0.68],[0.64,-0.58],[0.66,-0.20],[0.58,-0.17],[0.47,-0.17],[0.44,-0.30],[0.31,-0.44],[0.11,-0.44],[-0.04,-0.37],[-0.24,-0.19],[-0.26,0.10],[-0.16,0.26],[0,0.355],[0.20,0.33],[0.28,0.25],[0.30,0.11],[0.5,0.095],[1.0,0.095]]]
];
const cDotted = [
 [[[0.875,0.53],[0.74,0.64],[0.585,0.77],[0.31,0.835],[-0.13,0.835],[-0.28,0.77],[-0.43,0.68],[-0.55,0.53],[-0.60,0.30],[-0.69,0.10],[-0.85,0.075],[-0.96,-0.05],[-0.99,-0.17],[-0.97,-0.33],[-0.90,-0.40],[-0.75,-0.63],[-0.58,-0.79],[-0.40,-0.92],[-0.25,-0.98],[0,-1.0],[0.15,-0.99],[0.30,-0.96],[0.44,-0.91],[0.58,-0.84],[0.69,-0.64],[0.71,-0.47],[0.71,-0.26],[0.80,-0.18],[0.585,-0.085],[0.44,-0.085],[0.35,-0.18],[0.30,-0.31],[0.14,-0.33],[0.06,-0.19],[0.10,-0.04],[0.16,-0.01],[0.5,0.0],[0.875,0.01]]],
 [[[0.875,0.50],[0.74,0.60],[0.585,0.74],[0.31,0.815],[-0.13,0.815],[-0.28,0.755],[-0.42,0.645],[-0.53,0.515],[-0.575,0.30],[-0.65,0.09],[-0.77,0.045],[-0.92,-0.05],[-0.955,-0.17],[-0.89,-0.33],[-0.75,-0.57],[-0.43,-0.84],[0,-0.935],[0.40,-0.85],[0.56,-0.78],[0.68,-0.55],[0.69,-0.30],[0.72,-0.17],[0.58,-0.105],[0.45,-0.105],[0.375,-0.185],[0.31,-0.33],[0.14,-0.35],[0.03,-0.30],[0,-0.17],[-0.03,-0.06],[-0.12,0.03],[-0.185,0.10],[-0.10,0.175],[0,0.215],[0.08,0.165],[0.15,0.065],[0.3,0.035],[0.875,0.03]]],
 [[[0.875,0.47],[0.74,0.57],[0.585,0.71],[0.31,0.795],[-0.13,0.795],[-0.28,0.735],[-0.42,0.605],[-0.505,0.495],[-0.545,0.30],[-0.61,0.08],[-0.71,0.025],[-0.89,-0.06],[-0.935,-0.17],[-0.87,-0.32],[-0.75,-0.53],[-0.43,-0.80],[0,-0.90],[0.40,-0.81],[0.54,-0.75],[0.66,-0.55],[0.665,-0.30],[0.69,-0.17],[0.58,-0.125],[0.46,-0.125],[0.395,-0.195],[0.325,-0.35],[0.12,-0.375],[-0.01,-0.33],[-0.07,-0.18],[-0.11,-0.05],[-0.18,0.03],[-0.22,0.10],[-0.12,0.215],[0,0.255],[0.12,0.195],[0.2,0.085],[0.3,0.05],[0.875,0.045]]],
 [[[0.875,0.45],[0.74,0.54],[0.585,0.68],[0.31,0.775],[-0.13,0.775],[-0.28,0.715],[-0.42,0.575],[-0.485,0.475],[-0.515,0.30],[-0.57,0.07],[-0.66,0.005],[-0.87,-0.06],[-0.925,-0.17],[-0.85,-0.31],[-0.75,-0.49],[-0.43,-0.77],[0,-0.875],[0.39,-0.785],[0.52,-0.715],[0.64,-0.55],[0.64,-0.30],[0.66,-0.17],[0.58,-0.14],[0.47,-0.14],[0.415,-0.205],[0.335,-0.37],[0.12,-0.395],[-0.02,-0.355],[-0.13,-0.20],[-0.18,-0.05],[-0.23,0.10],[-0.14,0.235],[0,0.285],[0.15,0.245],[0.22,0.155],[0.25,0.075],[0.5,0.06],[0.875,0.06]]],
 [[[0.875,0.42],[0.74,0.49],[0.585,0.65],[0.31,0.75],[-0.13,0.745],[-0.28,0.68],[-0.42,0.54],[-0.46,0.45],[-0.49,0.30],[-0.53,0.06],[-0.61,-0.02],[-0.84,-0.065],[-0.89,-0.17],[-0.83,-0.30],[-0.75,-0.45],[-0.43,-0.73],[0,-0.845],[0.37,-0.755],[0.50,-0.685],[0.62,-0.55],[0.62,-0.30],[0.63,-0.18],[0.58,-0.155],[0.48,-0.155],[0.435,-0.205],[0.355,-0.40],[0.11,-0.42],[-0.04,-0.365],[-0.19,-0.20],[-0.23,-0.03],[-0.25,0.10],[-0.15,0.24],[0,0.305],[0.16,0.27],[0.24,0.195],[0.27,0.085],[0.5,0.07],[0.875,0.07]]],
 [[[0.875,0.37],[0.74,0.43],[0.56,0.57],[0.38,0.63],[0.29,0.70],[-0.13,0.70],[-0.28,0.62],[-0.40,0.50],[-0.44,0.30],[-0.46,0.12],[-0.50,0.02],[-0.60,0.0],[-0.80,-0.07],[-0.85,-0.17],[-0.73,-0.40],[-0.59,-0.55],[-0.42,-0.70],[-0.33,-0.77],[0,-0.82],[0.23,-0.81],[0.38,-0.72],[0.54,-0.62],[0.59,-0.55],[0.60,-0.19],[0.55,-0.175],[0.45,-0.18],[0.42,-0.31],[0.29,-0.44],[0.11,-0.45],[-0.05,-0.38],[-0.25,-0.20],[-0.28,-0.05],[-0.30,0.10],[-0.18,0.26],[0,0.355],[0.19,0.33],[0.27,0.24],[0.29,0.10],[0.5,0.09],[0.875,0.09]]]
];

// ---------- drawing ----------
const svg = d3.select("#fig");
const styles = [
  {dash: "1.7,2.6"},   // RPM 6000 dotted
  {dash: "6,2.6"},     // RPM 8000 dashed
  {dash: null}         // RPM 10000 solid
];
const panels = [
  {left: 86.5, right: 530.5, top: 38, bottom: 401, sets: [aDotted, aDashed, aSolid], capX: 308, capY: 488, labX: 22},
  {left: 719, right: 1158.5, top: 38, bottom: 401, sets: [bDotted, bDashed, bSolid], capX: 939, capY: 488, labX: 655},
  {left: 86.5, right: 530.5, top: 557, bottom: 920, sets: [cDotted, cDashed, cSolid], capX: 308, capY: 1007, labX: 22}
];
const FONT = "DejaVu Sans, sans-serif";

panels.forEach((p, pi) => {
  const x = d3.scaleLinear().domain([-1, 1]).range([p.left, p.right]);
  const y = d3.scaleLinear().domain([-1, 1]).range([p.bottom, p.top]);
  const g = svg.append("g");
  const clipId = "clip" + pi;
  svg.append("clipPath").attr("id", clipId).append("rect")
     .attr("x", p.left).attr("y", p.top).attr("width", p.right - p.left).attr("height", p.bottom - p.top);

  // grid
  const grid = g.append("g");
  tickValues.forEach(t => {
    grid.append("line").attr("x1", x(t)).attr("x2", x(t)).attr("y1", p.top).attr("y2", p.bottom)
        .attr("stroke", "#b0b0b0").attr("stroke-width", 0.9);
    grid.append("line").attr("y1", y(t)).attr("y2", y(t)).attr("x1", p.left).attr("x2", p.right)
        .attr("stroke", "#b0b0b0").attr("stroke-width", 0.9);
  });

  // contours
  const line = d3.line().x(d => x(d[0])).y(d => y(d[1]));
  const cg = g.append("g").attr("clip-path", `url(#${clipId})`);
  p.sets.forEach((set, si) => {
    set.forEach((levelPieces, li) => {
      levelPieces.forEach(piece => {
        const path = cg.append("path").attr("d", line(piece)).attr("fill", "none")
          .attr("stroke", levelColors[li]).attr("stroke-width", 1.75)
          .attr("stroke-linejoin", "round");
        if (styles[si].dash) path.attr("stroke-dasharray", styles[si].dash);
      });
    });
  });

  // axes
  const xAxis = d3.axisBottom(x).tickValues(tickValues).tickFormat((d, i) => tickLabels[i]).tickSize(3.5).tickPadding(4);
  const yAxis = d3.axisLeft(y).tickValues(tickValues).tickFormat((d, i) => tickLabels[i]).tickSize(3.5).tickPadding(3.5);
  const gx = g.append("g").attr("transform", `translate(0,${p.bottom})`).call(xAxis);
  const gy = g.append("g").attr("transform", `translate(${p.left},0)`).call(yAxis);
  [gx, gy].forEach(a => {
    a.select(".domain").remove();
    a.selectAll("text").attr("font-family", FONT).attr("font-size", 12.5).attr("fill", "#000");
    a.selectAll("line").attr("stroke", "#000").attr("stroke-width", 0.9);
  });
  g.append("rect").attr("x", p.left).attr("y", p.top).attr("width", p.right - p.left).attr("height", p.bottom - p.top)
    .attr("fill", "none").attr("stroke", "#000").attr("stroke-width", 1);

  // axis labels
  const cx = (p.left + p.right) / 2;
  g.append("text").attr("x", cx).attr("y", p.bottom + 42).attr("text-anchor", "middle")
    .attr("font-family", FONT).attr("font-size", 12.5).attr("font-style", "italic").text("Ỹ");
  g.append("text").attr("transform", `translate(${p.labX},${(p.top + p.bottom) / 2}) rotate(-90)`)
    .attr("text-anchor", "middle").attr("font-family", FONT).attr("font-size", 12.5).attr("font-style", "italic").text("Z\u0303");

  // legend
  const lg = g.append("g").attr("transform", `translate(${p.left + 1.5},${p.top - 30})`);
  const lw = p.right - p.left - 2;
  lg.append("rect").attr("width", lw).attr("height", 23).attr("rx", 3).attr("fill", "#fff")
    .attr("stroke", "#d5d5d5").attr("stroke-width", 0.9);
  const itemX = [6, 152, 306];
  rpmLabels.forEach((lab, i) => {
    const l = lg.append("line").attr("x1", itemX[i]).attr("x2", itemX[i] + 28).attr("y1", 11.5).attr("y2", 11.5)
      .attr("stroke", levelColors[0]).attr("stroke-width", 1.75);
    if (styles[i].dash) l.attr("stroke-dasharray", styles[i].dash);
    lg.append("text").attr("x", itemX[i] + 39).attr("y", 16).attr("font-family", FONT).attr("font-size", 13)
      .attr("fill", "#000").text(lab);
  });

  // caption
  const cap = svg.append("text").attr("x", p.capX).attr("y", p.capY).attr("text-anchor", "middle")
    .attr("font-family", "Liberation Serif, Times New Roman, serif").attr("font-size", 23).attr("fill", "#000");
  cap.append("tspan").text(captionLetters[pi] + " ");
  cap.append("tspan").attr("font-style", "italic").text("J");
  cap.append("tspan").text(" = " + jValues[pi]);
});
</script>
</body></html>
